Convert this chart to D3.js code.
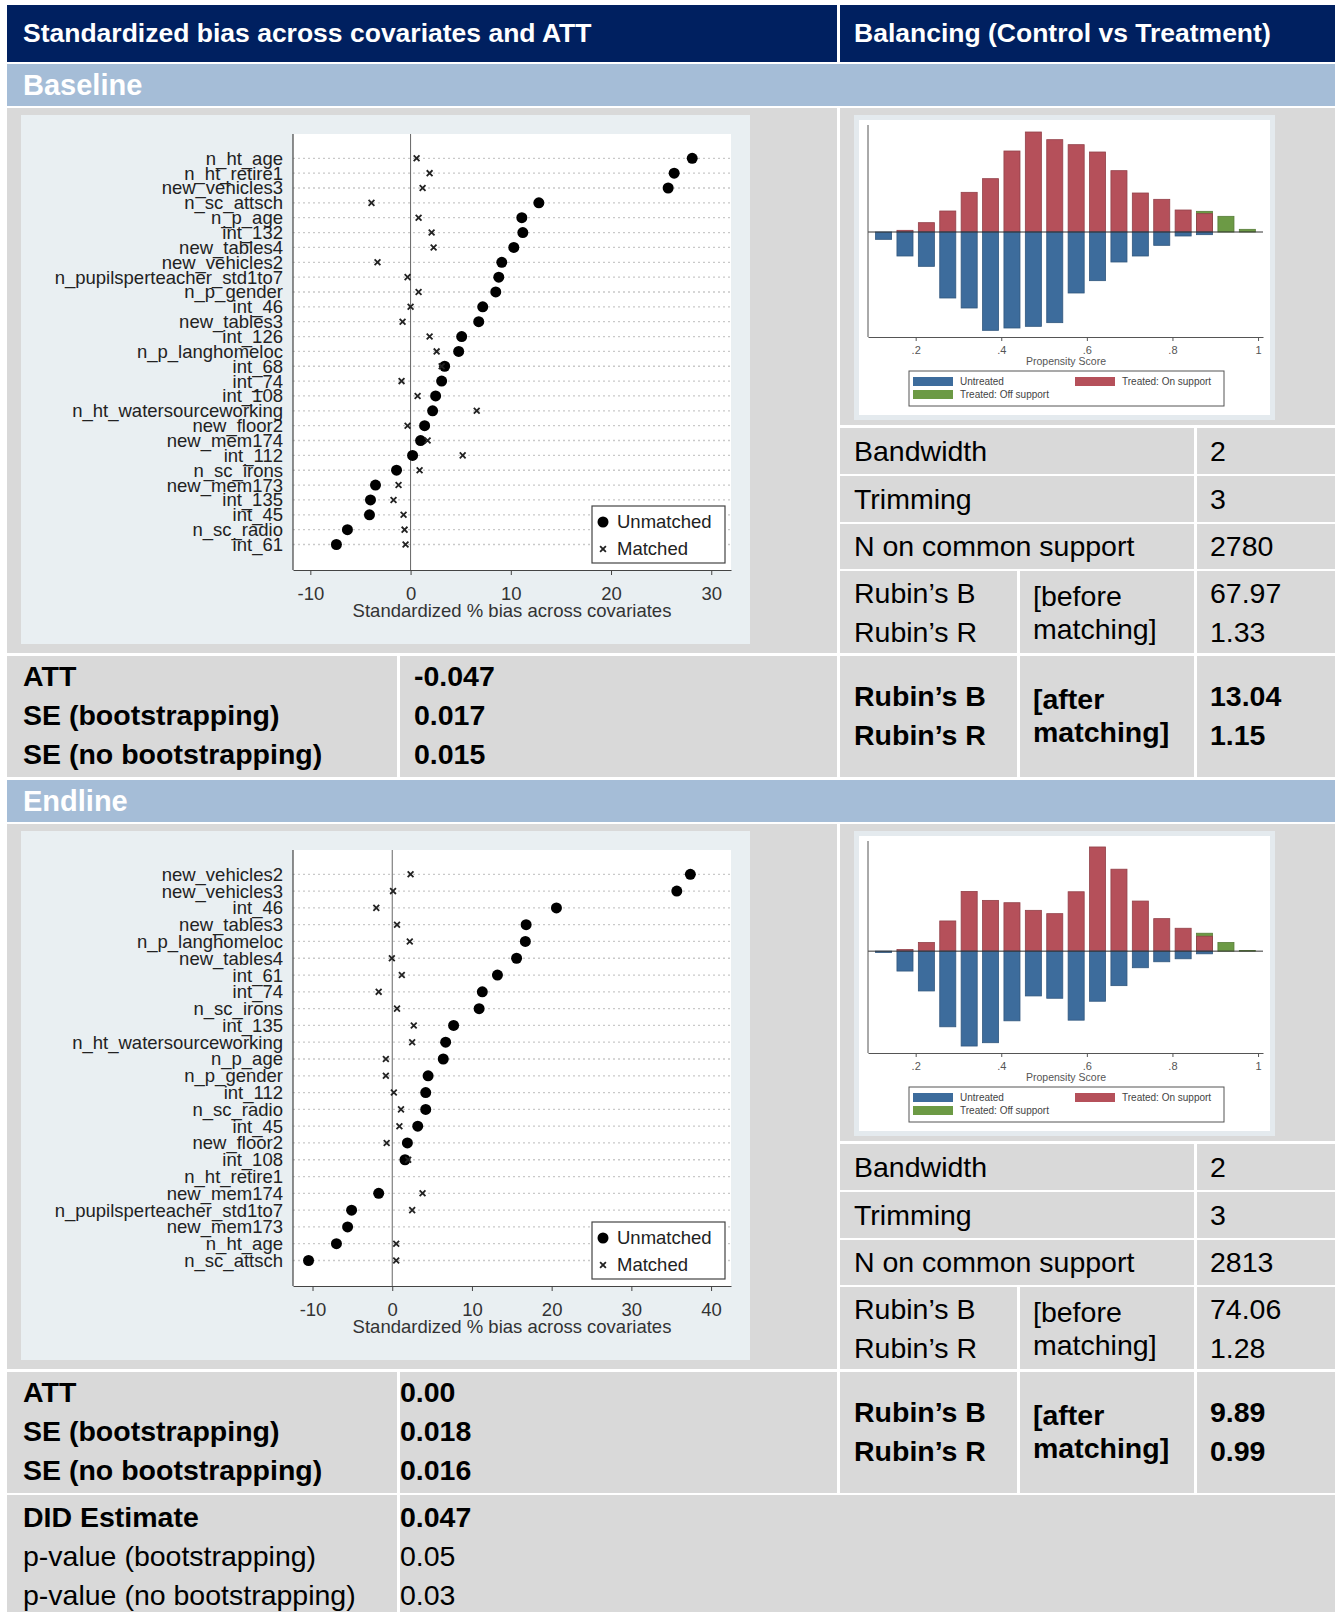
<!DOCTYPE html>
<html>
<head>
<meta charset="utf-8">
<script src="https://cdn.jsdelivr.net/npm/d3@7"></script>
<style>
body { margin: 0; background: #fff; }
svg { display: block; font-family: "Liberation Sans", Arial, sans-serif; }
</style>
</head>
<body>
<div id="chart"></div>
<script>

// Covariate balance (standardized % bias), baseline
const baseVars = ["n_ht_age", "n_ht_retire1", "new_vehicles3", "n_sc_attsch", "n_p_age", "int_132",
    "new_tables4", "new_vehicles2", "n_pupilsperteacher_std1to7", "n_p_gender", "int_46", "new_tables3",
    "int_126", "n_p_langhomeloc", "int_68", "int_74", "int_108", "n_ht_watersourceworking", "new_floor2",
    "new_mem174", "int_112", "n_sc_irons", "new_mem173", "int_135", "int_45", "n_sc_radio", "int_61"];
const baseUnmatched = [28.1, 26.3, 25.7, 12.8, 11.1, 11.2, 10.3, 9.1, 8.8, 8.5, 7.2, 6.8, 5.1, 4.8,
    3.4, 3.1, 2.5, 2.2, 1.4, 1.0, 0.2, -1.4, -3.5, -4.0, -4.1, -6.3, -7.4];
const baseMatched = [0.6, 1.9, 1.2, -3.9, 0.8, 2.1, 2.3, -3.3, -0.3, 0.8, 0.0, -0.8, 1.9, 2.6,
    3.1, -0.9, 0.7, 6.6, -0.3, 1.7, 5.2, 0.9, -1.2, -1.7, -0.7, -0.6, -0.5];
const baseTicks = [-10, 0, 10, 20, 30];

// endline
const endVars = ["new_vehicles2", "new_vehicles3", "int_46", "new_tables3", "n_p_langhomeloc", "new_tables4",
    "int_61", "int_74", "n_sc_irons", "int_135", "n_ht_watersourceworking", "n_p_age", "n_p_gender", "int_112",
    "n_sc_radio", "int_45", "new_floor2", "int_108", "n_ht_retire1", "new_mem174",
    "n_pupilsperteacher_std1to7", "new_mem173", "n_ht_age", "n_sc_attsch"];
const endUnmatched = [37.4, 35.7, 20.6, 16.8, 16.7, 15.6, 13.2, 11.3, 10.9, 7.7, 6.7, 6.4, 4.5, 4.2,
    4.2, 3.2, 1.9, 1.6, null, -1.7, -5.1, -5.6, -7.0, -10.5];
const endMatched = [2.3, 0.1, -2.0, 0.6, 2.2, -0.05, 1.2, -1.7, 0.6, 2.7, 2.5, -0.8, -0.8, 0.2,
    1.1, 0.9, -0.7, 2.0, null, 3.8, 2.5, null, 0.5, 0.5];
const endTicks = [-10, 0, 10, 20, 30, 40];

// Propensity score histograms (bin mid points, densities)
const binMid = [0.125, 0.175, 0.225, 0.275, 0.325, 0.375, 0.425, 0.475, 0.525,
    0.575, 0.625, 0.675, 0.725, 0.775, 0.825, 0.875, 0.925, 0.975];
const baseUntreated = [0.22, 0.72, 1.03, 1.98, 2.28, 2.95, 2.88, 2.83, 2.72, 1.83, 1.46, 0.90, 0.72, 0.40, 0.12, 0.08, 0, 0];
const baseTreatedOn = [0, 0.05, 0.28, 0.63, 1.19, 1.60, 2.43, 3.00, 2.77, 2.62, 2.40, 1.84, 1.17, 0.98, 0.66, 0.55, 0, 0];
const baseTreatedOff = [0, 0, 0, 0, 0, 0, 0, 0, 0, 0, 0, 0, 0, 0, 0, 0.62, 0.47, 0.08];
const endUntreated = [0.04, 0.60, 1.20, 2.28, 2.86, 2.76, 2.10, 1.35, 1.42, 2.08, 1.51, 1.04, 0.50, 0.32, 0.23, 0.08, 0, 0];
const endTreatedOn = [0, 0.05, 0.26, 0.91, 1.80, 1.53, 1.46, 1.23, 1.13, 1.79, 3.14, 2.47, 1.51, 0.98, 0.69, 0.45, 0, 0];
const endTreatedOff = [0, 0, 0, 0, 0, 0, 0, 0, 0, 0, 0, 0, 0, 0, 0, 0.54, 0.26, 0.02];
const psTicks = [0.2, 0.4, 0.6, 0.8, 1];
const psTickLabels = [".2", ".4", ".6", ".8", "1"];

// Table texts
const headers = ["Standardized bias across covariates and ATT", "Balancing (Control vs Treatment)"];
const attLabels = ["ATT", "SE (bootstrapping)", "SE (no bootstrapping)"];
const baseAtt = ["-0.047", "0.017", "0.015"];
const endAtt = ["0.00", "0.018", "0.016"];
const didLabels = ["DID Estimate", "p-value (bootstrapping)", "p-value (no bootstrapping)"];
const didValues = ["0.047", "0.05", "0.03"];
const balLabels = ["Bandwidth", "Trimming", "N on common support"];
const baseBal = ["2", "3", "2780"];
const endBal = ["2", "3", "2813"];
const rubinLabels = ["Rubin’s B", "Rubin’s R"];
const baseRubinBefore = ["67.97", "1.33"];
const baseRubinAfter = ["13.04", "1.15"];
const endRubinBefore = ["74.06", "1.28"];
const endRubinAfter = ["9.89", "0.99"];

const navy = "#002060", band = "#a5bdd7", cellGrey = "#d9d9d9", panelBg = "#e9eff2";
const colUntreated = "#3d6c9c", colOn = "#b5505a", colOff = "#6c9a45";

const svg = d3.select("#chart").append("svg")
    .attr("width", 1335)
    .attr("height", 1612);

const rect = (x0, y0, x1, y1, fill) => svg.append("rect")
    .attr("x", x0).attr("y", y0)
    .attr("width", x1 - x0).attr("height", y1 - y0)
    .attr("fill", fill);

const label = (x, y, s, size, bold, fill, anchor) => svg.append("text")
    .attr("x", x).attr("y", y).attr("dy", "0.35em")
    .attr("font-size", size)
    .attr("font-weight", bold ? "bold" : "normal")
    .attr("fill", fill || "#000")
    .attr("text-anchor", anchor || "start")
    .text(s);

const FS = 28.5;

/*
 * Stata style dot plot of standardized bias
 */
const dotPlot = (T, vars, unmatched, matched, domain, ticks) => {

    const g = svg.append("g");
    g.append("rect").attr("x", 21).attr("y", T + 51).attr("width", 729).attr("height", 529).attr("fill", panelBg);
    g.append("rect").attr("x", 293).attr("y", T + 70).attr("width", 438).attr("height", 436).attr("fill", "#fff");

    const x = d3.scaleLinear().domain(domain).range([293, 731]);
    const y = d3.scalePoint().domain(vars).range([T + 94.3, T + 480.5]);

    g.selectAll(".grid").data(vars).enter().append("line")
        .attr("x1", 293).attr("x2", 731)
        .attr("y1", d => y(d)).attr("y2", d => y(d))
        .attr("stroke", "#c9c9c9").attr("stroke-width", 1.3)
        .attr("stroke-dasharray", "2,3");

    g.append("line")
        .attr("x1", x(0)).attr("x2", x(0))
        .attr("y1", T + 70).attr("y2", T + 506)
        .attr("stroke", "#666").attr("stroke-width", 1);

    g.append("line")
        .attr("x1", 293).attr("x2", 293)
        .attr("y1", T + 70).attr("y2", T + 506)
        .attr("stroke", "#444").attr("stroke-width", 1.2);

    const ax = g.append("g")
        .attr("transform", `translate(0,${T + 506})`)
        .call(d3.axisBottom(x).tickValues(ticks).tickFormat(d => String(d))
            .tickSize(5).tickSizeOuter(0).tickPadding(12));
    ax.select(".domain").attr("stroke", "#444").attr("stroke-width", 1.2);
    ax.selectAll(".tick line").attr("stroke", "#444");
    ax.selectAll(".tick text")
        .attr("font-size", 18.5)
        .attr("font-family", "'Liberation Sans', Arial, sans-serif")
        .attr("fill", "#333");

    g.append("text")
        .attr("x", 512).attr("y", T + 546.5).attr("dy", "0.35em")
        .attr("text-anchor", "middle").attr("font-size", 18.5).attr("fill", "#333")
        .text("Standardized % bias across covariates");

    g.selectAll(".ylab").data(vars).enter().append("text")
        .attr("x", 283).attr("y", d => y(d)).attr("dy", "0.35em")
        .attr("text-anchor", "end").attr("font-size", 18.5).attr("fill", "#222")
        .text(d => d);

    g.selectAll(".unm").data(vars.filter((d, i) => unmatched[i] !== null)).enter().append("circle")
        .attr("cx", d => x(unmatched[vars.indexOf(d)]))
        .attr("cy", d => y(d))
        .attr("r", 5.5).attr("fill", "#000");

    const cross = (cx, cy, s) => `M${cx - s},${cy - s}L${cx + s},${cy + s}M${cx - s},${cy + s}L${cx + s},${cy - s}`;

    g.selectAll(".mat").data(vars.filter((d, i) => matched[i] !== null)).enter().append("path")
        .attr("d", d => cross(x(matched[vars.indexOf(d)]), y(d), 2.9))
        .attr("stroke", "#222").attr("stroke-width", 1.8).attr("fill", "none");

    // legend
    g.append("rect").attr("x", 592).attr("y", T + 442).attr("width", 133).attr("height", 57)
        .attr("fill", "#fff").attr("stroke", "#444").attr("stroke-width", 1.2);
    g.append("circle").attr("cx", 603).attr("cy", T + 458).attr("r", 5.5).attr("fill", "#000");
    g.append("path").attr("d", cross(603, T + 485, 2.9))
        .attr("stroke", "#222").attr("stroke-width", 1.8);
    g.append("text").attr("x", 617).attr("y", T + 458).attr("dy", "0.35em")
        .attr("font-size", 18.5).attr("fill", "#222").text("Unmatched");
    g.append("text").attr("x", 617).attr("y", T + 485).attr("dy", "0.35em")
        .attr("font-size", 18.5).attr("fill", "#222").text("Matched");
}

/*
 * psgraph: treated above, untreated below the zero line
 */
const psHist = (T, untreated, treatedOn, treatedOff, yDomain) => {

    const g = svg.append("g");
    g.append("rect").attr("x", 854).attr("y", T + 51).attr("width", 421).attr("height", 305).attr("fill", "#e4eaee");
    g.append("rect").attr("x", 859).attr("y", T + 56).attr("width", 411).attr("height", 295).attr("fill", "#fff");

    const x = d3.scaleLinear().domain([0.0886, 1.0116]).range([868, 1263]);
    const y = d3.scaleLinear().domain(yDomain).range([T + 273, T + 61]);
    const bw = x(0.1375) - x(0.1);

    const bars = (vals, col, up) => g.selectAll(null).data(binMid).enter()
        .filter((d, i) => vals[i] > 0)
        .append("rect")
        .attr("x", d => x(d) - bw / 2)
        .attr("width", bw)
        .attr("y", d => up ? y(vals[binMid.indexOf(d)]) : y(0))
        .attr("height", d => Math.abs(y(vals[binMid.indexOf(d)]) - y(0)))
        .attr("fill", col)
        .attr("stroke", d3.color(col).darker(0.6))
        .attr("stroke-width", 0.8);

    bars(treatedOff, colOff, true);
    bars(treatedOn, colOn, true);
    bars(untreated, colUntreated, false);

    g.append("line").attr("x1", 868).attr("x2", 1263).attr("y1", y(0)).attr("y2", y(0))
        .attr("stroke", "#333").attr("stroke-width", 1);
    g.append("line").attr("x1", 868).attr("x2", 868).attr("y1", T + 61).attr("y2", T + 273)
        .attr("stroke", "#555").attr("stroke-width", 1);

    const ax = g.append("g")
        .attr("transform", `translate(0,${T + 273})`)
        .call(d3.axisBottom(x).tickValues(psTicks).tickFormat((d, i) => psTickLabels[i])
            .tickSize(4).tickSizeOuter(0).tickPadding(5));
    ax.select(".domain").attr("stroke", "#555");
    ax.selectAll(".tick line").attr("stroke", "#555");
    ax.selectAll(".tick text").attr("font-size", 11)
        .attr("font-family", "'Liberation Sans', Arial, sans-serif").attr("fill", "#555");

    g.append("text").attr("x", 1066).attr("y", T + 297).attr("dy", "0.35em")
        .attr("text-anchor", "middle").attr("font-size", 10.5).attr("fill", "#555")
        .text("Propensity Score");

    g.append("rect").attr("x", 909).attr("y", T + 307).attr("width", 315).attr("height", 35)
        .attr("fill", "#fff").attr("stroke", "#555").attr("stroke-width", 1);
    const leg = [
        [913, T + 313, colUntreated, "Untreated"],
        [1075, T + 313, colOn, "Treated: On support"],
        [913, T + 326, colOff, "Treated: Off support"]
    ];
    leg.forEach(l => {
        g.append("rect").attr("x", l[0]).attr("y", l[1]).attr("width", 40).attr("height", 9).attr("fill", l[2]);
        g.append("text").attr("x", l[0] + 47).attr("y", l[1] + 4.5).attr("dy", "0.35em")
            .attr("font-size", 10).attr("fill", "#444").text(l[3]);
    });
}

/*
 * One block (Baseline / Endline) of the table
 */
const section = (T, name, vars, unm, mat, domain, ticks, hist, attVals, attX, bal, before, after) => {

    rect(7, T, 1335, T + 42, band);
    label(23, T + 21, name, 29, true, "#fff");

    rect(7, T + 44, 837, T + 589, cellGrey);
    rect(840, T + 44, 1335, T + 361, cellGrey);

    dotPlot(T, vars, unm, mat, domain, ticks);
    psHist(T, hist[0], hist[1], hist[2], hist[3]);

    // ATT block
    rect(7, T + 592, 397, T + 713, cellGrey);
    rect(400, T + 592, 837, T + 713, cellGrey);
    attLabels.forEach((s, i) => {
        label(23, T + 612 + i * 39, s, FS, true);
        label(attX, T + 612 + i * 39, attVals[i], FS, true);
    });

    // balancing rows
    const rows = [[T + 364, T + 410], [T + 412, T + 458], [T + 460, T + 505]];
    rows.forEach((r, i) => {
        rect(840, r[0], 1194, r[1], cellGrey);
        rect(1197, r[0], 1335, r[1], cellGrey);
        label(854, (r[0] + r[1]) / 2, balLabels[i], FS);
        label(1210, (r[0] + r[1]) / 2, bal[i], FS);
    });

    // Rubin's B / R
    [[T + 507, T + 589, "[before", "matching]", before, false],
     [T + 592, T + 713, "[after", "matching]", after, true]].forEach(r => {
        rect(840, r[0], 1017, r[1], cellGrey);
        rect(1020, r[0], 1194, r[1], cellGrey);
        rect(1197, r[0], 1335, r[1], cellGrey);
        const top = r[5] ? T + 632 : T + 529;
        rubinLabels.forEach((s, i) => {
            label(854, top + i * 39, s, FS, r[5]);
            label(1210, top + i * 39, r[4][i], FS, r[5]);
        });
        label(1033, top + 3, r[2], FS, r[5]);
        label(1033, top + 36, r[3], FS, r[5]);
    });
}

// header
rect(7, 5, 837, 62, navy);
rect(840, 5, 1335, 62, navy);
label(23, 33, headers[0], 26.5, true, "#fff");
label(854, 33, headers[1], 26.5, true, "#fff");

section(64, "Baseline", baseVars, baseUnmatched, baseMatched, [-11.73, 31.97], baseTicks,
    [baseUntreated, baseTreatedOn, baseTreatedOff, [-3.15, 3.21]], baseAtt, 414, baseBal, baseRubinBefore, baseRubinAfter);

section(780, "Endline", endVars, endUnmatched, endMatched, [-12.45, 42.5], endTicks,
    [endUntreated, endTreatedOn, endTreatedOff, [-3.07, 3.32]], endAtt, 400, endBal, endRubinBefore, endRubinAfter);

// DID block
rect(7, 1495, 397, 1612, cellGrey);
rect(400, 1495, 1335, 1612, cellGrey);
didLabels.forEach((s, i) => {
    label(23, 1517 + i * 39, s, FS, i === 0);
    label(400, 1517 + i * 39, didValues[i], FS, i === 0);
});

</script>
</body>
</html>
